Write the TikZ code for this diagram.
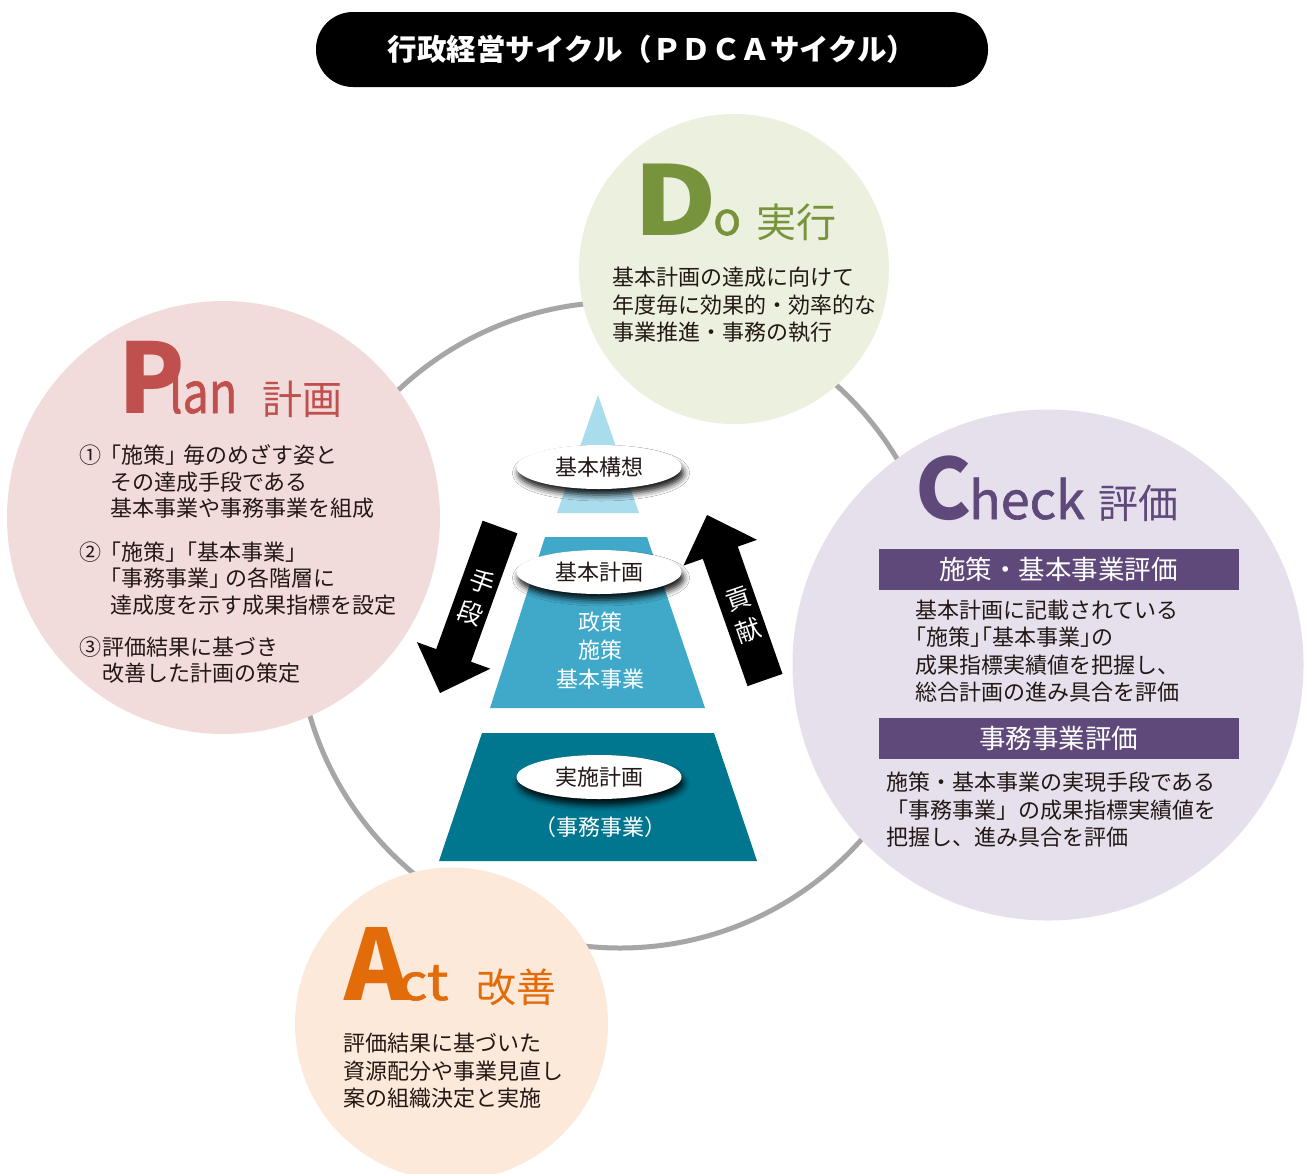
\documentclass[tikz,border=0pt]{standalone}
\usepackage{fontspec}
\setmainfont{Noto Sans CJK JP}
\newfontfamily\jph[RawFeature=+halt]{Noto Sans CJK JP}
\newfontfamily\latmed[FakeBold=1.2]{Noto Sans CJK JP}
\usetikzlibrary{shapes.geometric,shadows.blur}
\definecolor{planc}{HTML}{C0504D}
\definecolor{doc}{HTML}{77933C}
\definecolor{chkc}{HTML}{5F497A}
\definecolor{actc}{HTML}{E36C0A}
\definecolor{planbg}{HTML}{F2DCDB}
\definecolor{dobg}{HTML}{EBF1DE}
\definecolor{chkbg}{HTML}{E5E0EC}
\definecolor{actbg}{HTML}{FDE9D9}
\definecolor{ringc}{HTML}{A6A6A6}
\definecolor{textc}{HTML}{231815}
\definecolor{pyrtop}{HTML}{A9DCEC}
\definecolor{pyrmid}{HTML}{40A9C9}
\definecolor{pyrbot}{HTML}{00768F}
\newcommand\jlb{{\jph 「}}
\newcommand\jrb{{\jph 」}}
\begin{document}
\begin{tikzpicture}[x=1pt,y=-1pt,
  body/.style={anchor=base west, inner sep=0pt, text=textc, font=\fontsize{22}{26}\selectfont},
  headj/.style={anchor=base west, inner sep=0pt, font=\fontsize{40}{44}\selectfont},
  headl/.style={anchor=base west, inner sep=0pt},
  bgcircle/.style={circle, inner sep=0pt},
  bar/.style={fill=chkc, minimum width=360, minimum height=41, inner sep=0pt, text=white, font=\fontsize{26.5}{30}\selectfont},
  oval/.style={ellipse, fill=white, minimum width=165, minimum height=44, inner sep=0pt, text=textc,
    blur shadow={shadow xshift=2pt, shadow yshift=-6pt, shadow blur radius=6pt, shadow opacity=90},
    font=\fontsize{22}{26}\selectfont},
  pyrtext/.style={text=white, inner sep=0pt, font=\fontsize{22}{26}\selectfont},
  arrowtext/.style={text=white, inner sep=0pt, font=\fontsize{25}{28}\selectfont}
]
\fill[white] (0,0) rectangle (1306,1173);
\useasboundingbox (0,0) rectangle (1306,1173);

% title
\node[fill=black, rounded corners=37pt, minimum width=672, minimum height=75, inner sep=0pt,
  text=white, font=\bfseries\fontsize{29.5}{33}\selectfont] (title) at (652,49.5) {行政経営サイクル（ＰＤＣＡサイクル）};

% ring and circles
\node[circle, draw=ringc, line width=5pt, minimum size=646, inner sep=0pt] (ring) at (620,625) {};
\node[bgcircle, fill=planbg, minimum size=433] (plan) at (223.5,517.5) {};
\node[bgcircle, fill=dobg, minimum size=310] (do) at (734,269) {};
\node[bgcircle, fill=chkbg, minimum size=511] (check) at (1048,665) {};
\node[bgcircle, fill=actbg, minimum size=313] (act) at (451.5,1024) {};

% Plan
\node[headl, text=planc] (planhd) at (118,413)
  {\rlap{\bfseries\fontsize{97}{97}\selectfont P}\hspace{51pt}{\latmed\fontsize{57}{57}\selectfont\scalebox{0.82}[1]{lan}}};
\node[headj, text=planc] (planj) at (262,414) {計画};
\node[body] (pn1) at (79,463) {①};
\node[body] (p1a) at (110,463) {\jlb 施策\jrb\hspace{7pt}毎のめざす姿と};
\node[body] (p1b) at (110,490) {その達成手段である};
\node[body] (p1c) at (110,516) {基本事業や事務事業を組成};
\node[body] (pn2) at (79,560) {②};
\node[body] (p2a) at (110,560) {\jlb 施策\jrb\hspace{10pt}\jlb 基本事業\jrb};
\node[body] (p2b) at (110,586) {\jlb 事務事業\jrb\hspace{5pt}の各階層に};
\node[body] (p2c) at (110,613) {達成度を示す成果指標を設定};
\node[body] (pn3) at (79,655) {③};
\node[body] (p3a) at (102,655) {評価結果に基づき};
\node[body] (p3b) at (102,681) {改善した計画の策定};

% Do
\node[headl, text=doc] (dohd) at (633,235)
  {\rlap{\bfseries\fontsize{96}{96}\selectfont\scalebox{1.2}[1]{D}}\hspace{80pt}{\latmed\fontsize{46}{46}\selectfont o}};
\node[headj, text=doc] (doj) at (756,237) {実行};
\node[body] (d1) at (612,285) {基本計画の達成に向けて};
\node[body] (d2) at (612,313) {年度毎に効果的・効率的な};
\node[body] (d3) at (612,340) {事業推進・事務の執行};

% Check
\node[headl, text=chkc] (chkhd) at (915,519)
  {\rlap{\bfseries\fontsize{84}{84}\selectfont C}\hspace{54pt}{\latmed\fontsize{52}{52}\selectfont heck}};
\node[headj, text=chkc] (chkj) at (1098,518) {評価};
\node[bar] (bar1) at (1058.5,569) {施策・基本事業評価};
\node[body] (c1a) at (915,618) {基本計画に記載されている};
\node[body] (c1b) at (915,645) {\jlb 施策\jrb\jlb 基本事業\jrb の};
\node[body] (c1c) at (915,673) {成果指標実績値を把握し、};
\node[body] (c1d) at (915,700) {総合計画の進み具合を評価};
\node[bar] (bar2) at (1058.5,738) {事務事業評価};
\node[body] (c2a) at (886,790) {施策・基本事業の実現手段である};
\node[body] (c2b) at (886,818) {「事務事業」の成果指標実績値を};
\node[body] (c2c) at (886,845) {把握し、進み具合を評価};

% Act
\node[headl, text=actc] (acthd) at (344,1000)
  {\rlap{\bfseries\fontsize{98}{98}\selectfont A}\hspace{54pt}{\latmed\fontsize{50}{50}\selectfont\scalebox{1.15}[1]{ct}}};
\node[headj, text=actc] (actj) at (476,1002) {改善};
\node[body] (a1) at (343,1051) {評価結果に基づいた};
\node[body] (a2) at (343,1079) {資源配分や事業見直し};
\node[body] (a3) at (343,1106) {案の組織決定と実施};

% pyramid
\fill[pyrtop] (598,395) -- (639,513) -- (557,513) -- cycle;
\fill[pyrmid] (545,537) -- (647,537) -- (705,708) -- (490,708) -- cycle;
\fill[pyrbot] (482,733) -- (714,733) -- (757,861) -- (439,861) -- cycle;
\node[oval] (kousou) at (599,467) {基本構想};
\node[oval] (kihon) at (599,572) {基本計画};
\node[oval] (jisshi) at (599,777) {実施計画};
\node[pyrtext] (m1) at (600,622) {政策};
\node[pyrtext] (m2) at (600,650) {施策};
\node[pyrtext] (m3) at (600,679) {基本事業};
\node[pyrtext] (m4) at (600,827) {{\jph （}事務事業{\jph ）}};

% arrows
\fill[black] (517.4,533.3) -- (482.6,520.7) -- (436.2,649.1) -- (416.9,642.1) -- (440,693) -- (490.3,668.7) -- (471.0,661.7) -- cycle;
\fill[black] (782.5,673.9) -- (747.5,686.1) -- (702.8,558.8) -- (683.5,565.6) -- (707,515) -- (757.1,539.8) -- (737.8,546.6) -- cycle;
\node[arrowtext, rotate=-20] (te) at (482,582) {手};
\node[arrowtext, rotate=-20] (dan) at (470,613) {段};
\node[arrowtext, rotate=19] (kou) at (738,599) {貢};
\node[arrowtext, rotate=19] (ken) at (748,630) {献};
\end{tikzpicture}
\end{document}
